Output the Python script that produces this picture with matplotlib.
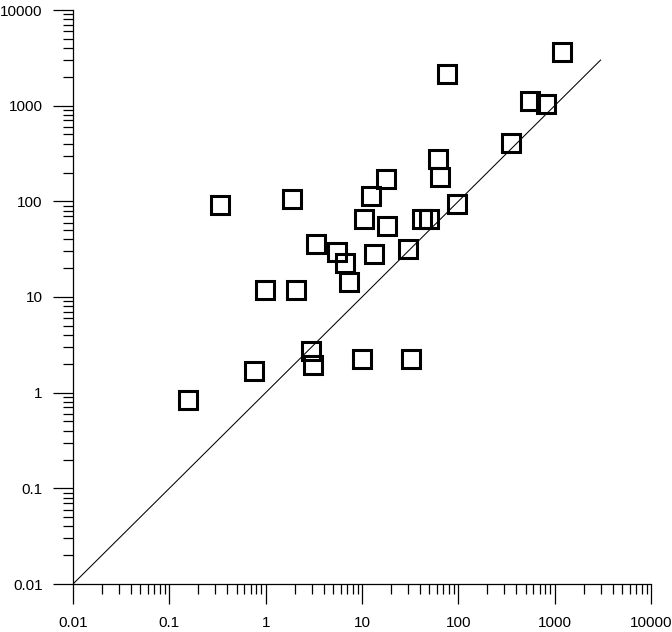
import matplotlib
matplotlib.use("Agg")
import matplotlib.pyplot as plt
from matplotlib.ticker import FixedLocator, FixedFormatter, LogLocator, NullFormatter

# data
x_vals = [0.157, 0.763, 0.336, 0.99, 1.89, 2.07, 2.98, 3.13, 3.31, 5.56, 6.68, 7.39,
          10.1, 10.4, 12.5, 13.4, 17.8, 18.2, 30.3, 32.6, 41.8, 50, 62, 64.7, 75.9,
          97, 356, 557, 811, 1205]
y_vals = [0.837, 1.68, 91, 11.8, 107, 11.8, 2.72, 1.94, 35.7, 29.6, 22.4, 14.2,
          2.23, 66, 113, 28, 173, 55, 31.4, 2.23, 66, 64.7, 276, 180, 2118,
          93.6, 412, 1114, 1038, 3597]
line_x = [0.01, 3000]
line_y = [0.01, 3000]
tick_vals = [0.01, 0.1, 1, 10, 100, 1000, 10000]
tick_labels = ["0.01", "0.1", "1", "10", "100", "1000", "10000"]

plt.rcParams['font.family'] = ['Liberation Sans', 'DejaVu Sans']

fig = plt.figure(figsize=(6.72, 6.32), dpi=100)
ax = fig.add_axes([73/672, (632-584)/632, (651-73)/672, (584-10)/632])
ax.set_xscale('log')
ax.set_yscale('log')
ax.set_xlim(0.01, 10000)
ax.set_ylim(0.01, 10000)

ax.plot(line_x, line_y, color='black', linewidth=0.75, zorder=2)
ax.plot(x_vals, y_vals, linestyle='none', marker='s', markersize=12.3,
        markerfacecolor='none', markeredgecolor='black', markeredgewidth=2.2,
        zorder=3, clip_on=False)

for spine in ['top', 'right']:
    ax.spines[spine].set_visible(False)
for spine in ['left', 'bottom']:
    ax.spines[spine].set_linewidth(0.9)

for axis in (ax.xaxis, ax.yaxis):
    axis.set_major_locator(FixedLocator(tick_vals))
    axis.set_major_formatter(FixedFormatter(tick_labels))
    axis.set_minor_locator(LogLocator(base=10, subs=range(2, 10), numticks=20))
    axis.set_minor_formatter(NullFormatter())

ax.tick_params(which='major', direction='out', length=14.4, width=0.9,
               labelsize=11)
ax.tick_params(axis='x', which='major', pad=8.5)
ax.tick_params(axis='y', which='major', pad=7.5)
ax.tick_params(which='minor', direction='out', length=7.2, width=0.9)

fig.savefig('out.png', dpi=100)
